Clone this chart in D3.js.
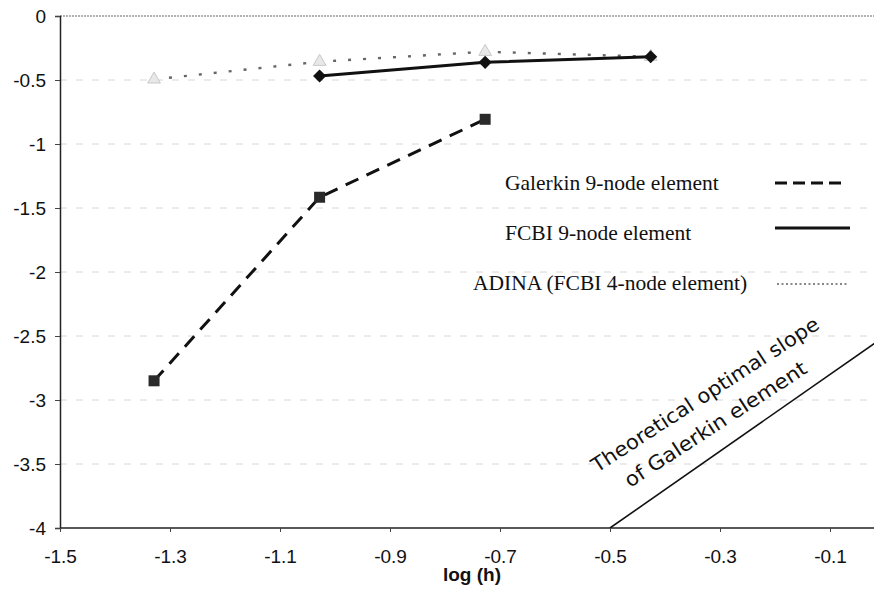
<!DOCTYPE html>
<html><head><meta charset="utf-8">
<script src="https://cdn.jsdelivr.net/npm/d3@7"></script>
<style>body{margin:0;background:#fff;} svg{display:block;}</style>
</head><body>
<svg id="c" width="874" height="603"></svg>
<script>
const logH = [-1.329, -1.028, -0.727, -0.426];
const galerkinX = [-1.329, -1.028, -0.727];
const galerkinY = [-2.85, -1.416, -0.807];
const fcbiX = [-1.028, -0.727, -0.426];
const fcbiY = [-0.469, -0.362, -0.318];
const adinaX = [-1.329, -1.028, -0.727, -0.426];
const adinaY = [-0.495, -0.357, -0.279, -0.318];
const slopeX = [-0.5, 0];
const slopeY = [-4, -2.5];
const xTicks = [-1.5, -1.3, -1.1, -0.9, -0.7, -0.5, -0.3, -0.1];
const yTicks = [0, -0.5, -1, -1.5, -2, -2.5, -3, -3.5, -4];
const legendLabels = ["Galerkin 9-node element", "FCBI 9-node element", "ADINA (FCBI 4-node element)"];
const slopeLabels = ["Theoretical optimal slope", "of Galerkin element"];
const xTitle = "log (h)";

const svg = d3.select("#c");
const x = d3.scaleLinear().domain([-1.5, 0]).range([60, 885]);
const y = d3.scaleLinear().domain([-4, 0]).range([528, 16]);

svg.append("defs").append("clipPath").attr("id","clip")
  .append("rect").attr("x",60).attr("y",0).attr("width",814).attr("height",528);

// gridlines
const g = svg.append("g");
g.selectAll("line.grid").data(yTicks.filter(v => v > -4)).join("line")
  .attr("x1", 60).attr("x2", 874)
  .attr("y1", d => y(d)).attr("y2", d => y(d))
  .attr("stroke", d => d === 0 ? "#9a9a9a" : "#d6d6d6")
  .attr("stroke-width", d => d === 0 ? 1.6 : 1)
  .attr("stroke-dasharray", d => d === 0 ? "2,1" : "7,9");

// y axis
const yAxis = d3.axisLeft(y).tickValues(yTicks).tickSize(5).tickFormat(d => String(d));
const ya = svg.append("g").attr("transform","translate(60,0)").call(yAxis);
ya.select(".domain").attr("stroke","#222").attr("stroke-width",1.5);
ya.selectAll(".tick line").attr("stroke","#444");
ya.selectAll(".tick text").attr("font-family","Liberation Sans, Arial, sans-serif")
  .attr("font-size",19).attr("fill","#111").attr("x",-14);

// x axis
const xAxis = d3.axisBottom(x).tickValues(xTicks).tickSize(4).tickFormat(d => d.toFixed(1));
const xa = svg.append("g").attr("transform","translate(0,528)").call(xAxis);
xa.select(".domain").attr("stroke","#222").attr("stroke-width",1.5).attr("d","M60,0H874");
xa.selectAll(".tick line").attr("stroke","#444");
xa.selectAll(".tick text").attr("font-family","Liberation Sans, Arial, sans-serif")
  .attr("font-size",19).attr("fill","#111").attr("y",0).attr("dy","35px");

svg.append("text").attr("x",472).attr("y",581).attr("text-anchor","middle")
  .attr("font-family","Liberation Sans, Arial, sans-serif").attr("font-weight","bold")
  .attr("font-size",19).attr("fill","#111").text(xTitle);

const plot = svg.append("g").attr("clip-path","url(#clip)");
const line = d3.line().x(d => x(d[0])).y(d => y(d[1]));

// theoretical slope line
plot.append("path").datum(d3.zip(slopeX, slopeY)).attr("d", line)
  .attr("fill","none").attr("stroke","#111").attr("stroke-width",1.6);

// ADINA
plot.append("path").datum(d3.zip(adinaX, adinaY)).attr("d", line)
  .attr("fill","none").attr("stroke","#666").attr("stroke-width",2.4).attr("stroke-dasharray","3,12");
plot.selectAll("path.tri").data(d3.zip(adinaX, adinaY)).join("path")
  .attr("transform", d => `translate(${x(d[0])},${y(d[1])})`)
  .attr("d", d3.symbol(d3.symbolTriangle, 70)())
  .attr("fill","#e8e8e8").attr("stroke","#c8c8c8").attr("stroke-width",1);

// FCBI
plot.append("path").datum(d3.zip(fcbiX, fcbiY)).attr("d", line)
  .attr("fill","none").attr("stroke","#111").attr("stroke-width",3);
plot.selectAll("path.dia").data(d3.zip(fcbiX, fcbiY)).join("path")
  .attr("transform", d => `translate(${x(d[0])},${y(d[1])})`)
  .attr("d", d3.symbol(d3.symbolDiamond2 || d3.symbolDiamond, 110)())
  .attr("fill","#111");

// Galerkin
plot.append("path").datum(d3.zip(galerkinX, galerkinY)).attr("d", line)
  .attr("fill","none").attr("stroke","#111").attr("stroke-width",3).attr("stroke-dasharray","14,9");
plot.selectAll("rect.sq").data(d3.zip(galerkinX, galerkinY)).join("rect")
  .attr("x", d => x(d[0]) - 5.5).attr("y", d => y(d[1]) - 5.5)
  .attr("width", 11).attr("height", 11).attr("fill","#2a2a2a");

// legend
const lg = svg.append("g").attr("font-family","Liberation Serif, Times New Roman, serif")
  .attr("font-size",21.5).attr("fill","#111");
const legX = [505, 505, 473];
const legY = [190, 240, 290];
lg.selectAll("text").data(legendLabels).join("text")
  .attr("x",(d,i)=>legX[i]).attr("y",(d,i)=>legY[i]).text(d=>d);
svg.append("line").attr("x1",775).attr("x2",842).attr("y1",183).attr("y2",183)
  .attr("stroke","#111").attr("stroke-width",3).attr("stroke-dasharray","12,6");
svg.append("line").attr("x1",775).attr("x2",850).attr("y1",228).attr("y2",228)
  .attr("stroke","#111").attr("stroke-width",3);
svg.append("line").attr("x1",777).attr("x2",848).attr("y1",284).attr("y2",284)
  .attr("stroke","#888").attr("stroke-width",2).attr("stroke-dasharray","2,2.5");

// slope labels
const ang = -33;
const st = svg.append("g").attr("font-family","DejaVu Sans, Lato, sans-serif").attr("font-size",20).attr("fill","#111");
st.append("text").attr("transform",`translate(597,473) rotate(${ang})`)
  .attr("textLength",267).attr("lengthAdjust","spacingAndGlyphs").text(slopeLabels[0]);
st.append("text").attr("transform",`translate(630,488) rotate(${ang})`)
  .attr("textLength",213).attr("lengthAdjust","spacingAndGlyphs").text(slopeLabels[1]);
</script>
</body></html>
